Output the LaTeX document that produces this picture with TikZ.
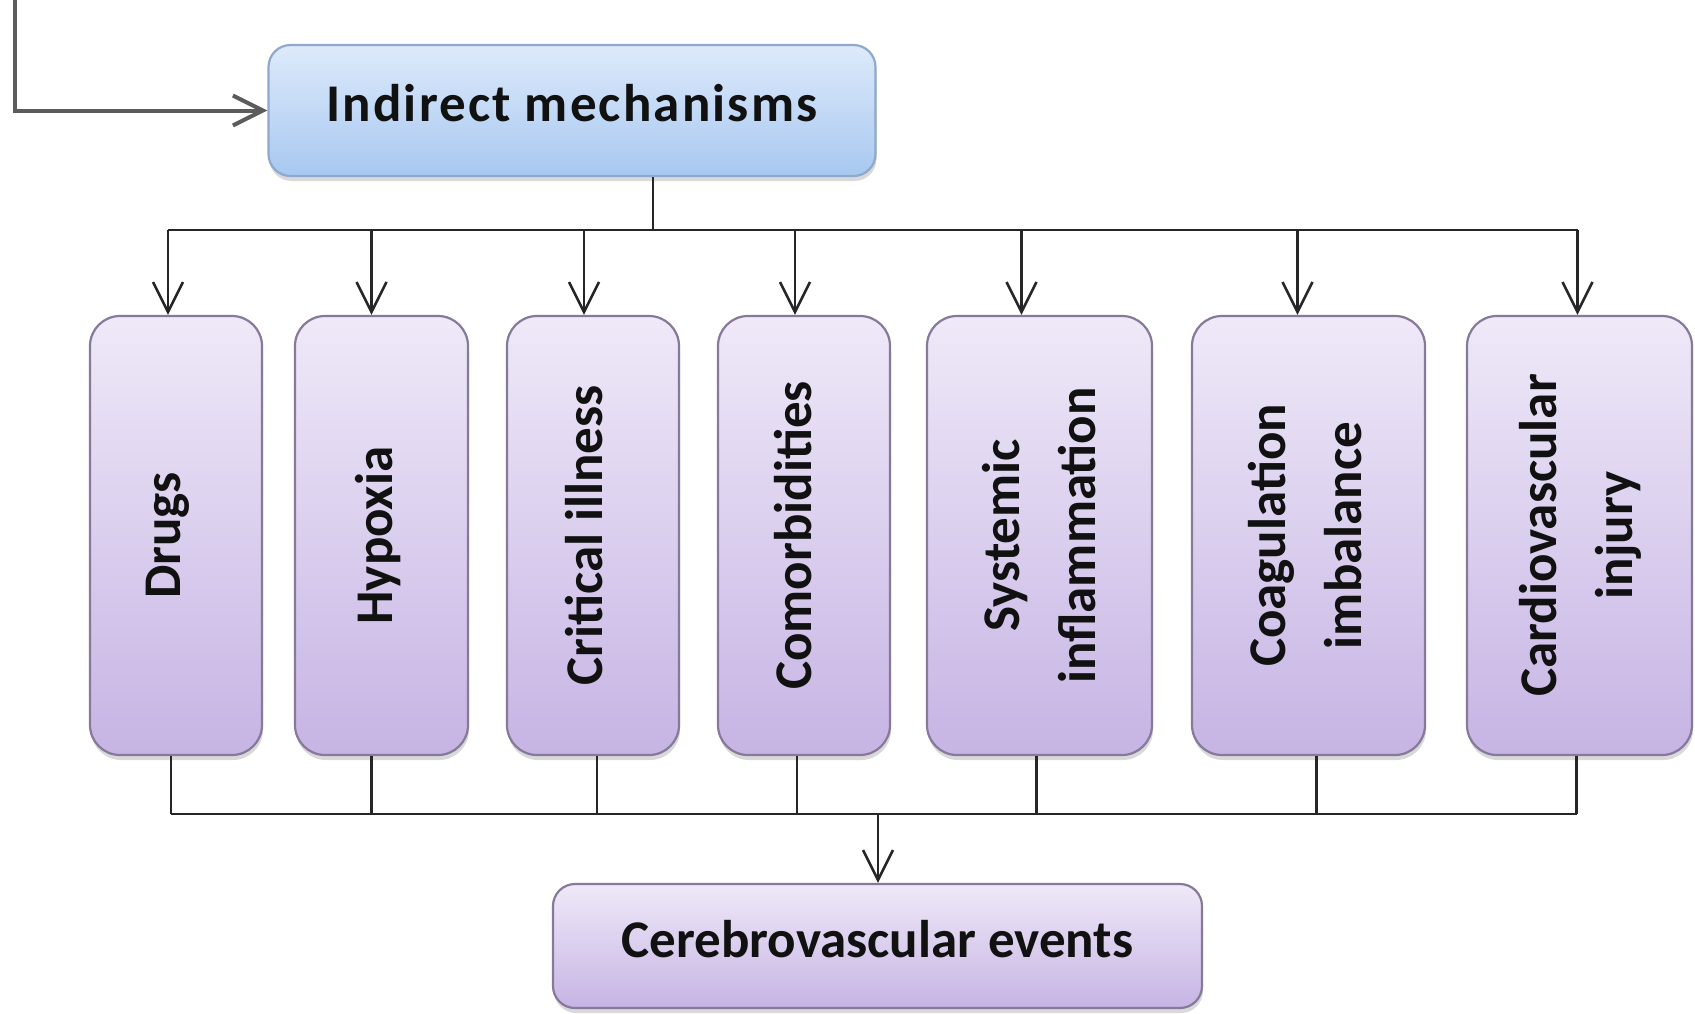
\documentclass[tikz,border=0pt]{standalone}
\usepackage{fontspec}
\usepackage{graphicx}
\setsansfont{Carlito}
\newfontfamily\spacedsans{Carlito}[LetterSpace=4]
\usetikzlibrary{arrows.meta,positioning,shadows}
\definecolor{Ink}{HTML}{111111}
\definecolor{Wire}{HTML}{262626}
\definecolor{Feed}{HTML}{5C5C5C}
\definecolor{BlueTop}{HTML}{DDEAFB}
\definecolor{BlueBot}{HTML}{A8C8F0}
\definecolor{BlueLine}{HTML}{8EA9CB}
\definecolor{LilacTop}{HTML}{EFE9F8}
\definecolor{LilacBot}{HTML}{C6B4E4}
\definecolor{LilacLine}{HTML}{86799A}
\newcommand{\upright}[2][0pt]{\rotatebox{90}{\raisebox{#1}[\height][\depth]{\begin{tabular}{@{}c@{}}#2\end{tabular}}}}
\newcommand{\lifted}[1]{\raisebox{7pt}[\height][\depth]{#1}}

\begin{document}
\begin{tikzpicture}[x=1pt,y=-1pt,
  box/.style={rounded corners=30pt,line width=2.2pt,inner sep=0pt,text=Ink,
    font=\sffamily\bfseries\fontsize{53}{76}\selectfont,
    drop shadow={opacity=0.3,shadow xshift=1pt,shadow yshift=-5pt}},
  headbox/.style={box,draw=BlueLine,top color=BlueTop,bottom color=BlueBot,rounded corners=22pt},
  causebox/.style={box,draw=LilacLine,top color=LilacTop,bottom color=LilacBot,minimum height=439pt},
  endbox/.style={box,draw=LilacLine,top color=LilacTop,bottom color=LilacBot,rounded corners=22pt},
  wire/.style={draw=Wire,line width=2.6pt},
  flow/.style={wire,-{Straight Barb[length=30pt,width=30pt]}},
  feed/.style={draw=Feed,line width=4pt,-{Straight Barb[length=30pt,width=30pt]}}
]
\useasboundingbox (0,0) rectangle (1695,1013);

% top box
\node[headbox,minimum width=607pt,minimum height=131pt] (mech) at (572,110.5)
  {\lifted{\spacedsans\bfseries Indirect mechanisms}};

% the seven causes
\node[causebox,minimum width=172pt] (drugs)    at (176,535.5)  {\upright[11pt]{Drugs}};
\node[causebox,minimum width=173pt] (hypoxia)  at (381.5,535.5){\upright[4pt]{Hypoxia}};
\node[causebox,minimum width=172pt] (critical) at (593,535.5)  {\upright[6pt]{Critical illness}};
\node[causebox,minimum width=172pt] (comorb)   at (804,535.5)  {\upright[8pt]{Comorbidities}};
\node[causebox,minimum width=225pt] (systemic) at (1039.5,535.5){\upright[-3pt]{Systemic\\inflammation}};
\node[causebox,minimum width=233pt] (coag)     at (1308.5,535.5){\upright{Coagulation\\imbalance}};
\node[causebox,minimum width=225pt] (cardio)   at (1579.5,535.5){\upright{Cardiovascular\\injury}};

% bottom box
\node[endbox,minimum width=649pt,minimum height=124pt] (events) at (877.5,946)
  {\lifted{Cerebrovascular events}};

% feed from above
\coordinate (feedtop) at (15,0);
\draw[feed] (feedtop) |- (mech.west);

% split to the causes
\coordinate (split) at (653,230);
\coordinate (join) at (878,814);
\draw[wire] (split |- mech.south) -- (split);
\foreach \n/\t/\b in {drugs/-8/-5,hypoxia/-10/-10,critical/-9/4,comorb/-9/-7,
                      systemic/-18/-3,coag/-11/8,cardio/-2/-3}{
  \path ([xshift=\t pt]\n.north) coordinate (\n-in)
        ([xshift=\b pt]\n.south) coordinate (\n-out);
  \draw[flow] (\n-in |- split) -- (\n-in);
  \draw[wire] (\n-out) -- (\n-out |- join);
}
\draw[wire] (drugs-in |- split) -- (cardio-in |- split);
\draw[wire] (drugs-out |- join) -- (cardio-out |- join);
\draw[flow] (join) -- (join |- events.north);
\end{tikzpicture}
\end{document}
